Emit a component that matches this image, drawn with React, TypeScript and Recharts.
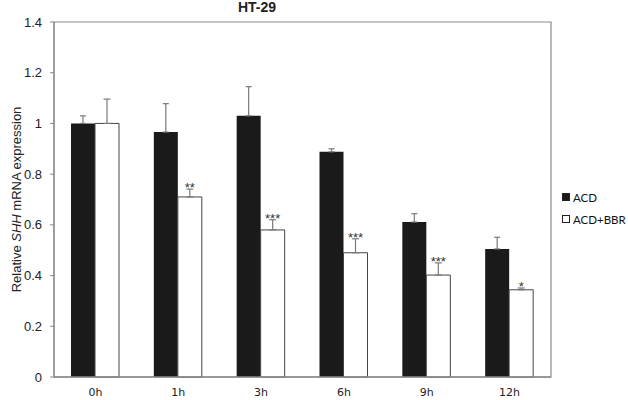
import React from 'react';
import {
  BarChart, Bar, XAxis, YAxis, ErrorBar, LabelList, ReferenceArea,
} from 'recharts';

// values
const TIMES = ['0h', '1h', '3h', '6h', '9h', '12h'];
const ACD = [1.0, 0.966, 1.03, 0.888, 0.611, 0.505];
const ACD_ERR = [0.03, 0.112, 0.115, 0.012, 0.033, 0.046];
const ACD_BBR = [1.0, 0.71, 0.58, 0.49, 0.402, 0.344];
const ACD_BBR_ERR = [0.096, 0.031, 0.04, 0.055, 0.048, 0.007];
const STARS = ['', '**', '***', '***', '***', '*'];
const Y_TICKS = [0, 0.2, 0.4, 0.6, 0.8, 1, 1.2, 1.4];

const data = TIMES.map((t, i) => ({
  time: t,
  acd: ACD[i],
  acdErr: [0, ACD_ERR[i]],
  bbr: ACD_BBR[i],
  bbrErr: [0, ACD_BBR_ERR[i]],
  stars: STARS[i],
}));

const GREY = '#8a8a8a';

const YLabel = (props: any) => {
  const { viewBox } = props;
  const cy = viewBox.y + viewBox.height / 2;
  return (
    <text
      x={16}
      y={cy}
      transform={`rotate(-90, 16, ${cy})`}
      textAnchor="middle"
      dominantBaseline="central"
      fontFamily="Liberation Sans, Arial, sans-serif"
      fontSize={13}
      fill="#222"
    >
      Relative <tspan fontStyle="italic">SHH</tspan> mRNA expression
    </text>
  );
};

const StarLabel = (props: any) => {
  const { x, y, width, height, value, index } = props;
  const s = STARS[index];
  if (!s) return null;
  // top of error bar, using the bar's own pixel-per-unit ratio
  const top = y - (ACD_BBR_ERR[index] / value) * height;
  return (
    <text
      x={x + width / 2}
      y={top + 3}
      textAnchor="middle"
      fontFamily="Liberation Sans, Arial, sans-serif"
      fontSize={13}
      fill="#333"
    >
      {s}
    </text>
  );
};

const LegendItem = ({ fill, label }: { fill: string; label: string }) => (
  <div style={{ display: 'flex', alignItems: 'center', height: 22, whiteSpace: 'nowrap' }}>
    <span
      style={{
        display: 'inline-block', flex: '0 0 auto', boxSizing: 'border-box',
        width: 8, height: 8, background: fill, border: '1px solid #222', marginRight: 3,
      }}
    />
    {label}
  </div>
);

export default function App() {
  return (
    <div style={{ position: 'absolute', left: 0, top: 0, width: 628, height: 400, background: '#fff' }}>
      <div
        style={{
          position: 'absolute', left: 230, top: 0, width: 54, textAlign: 'center', lineHeight: '14px',
          fontFamily: 'Liberation Sans, Arial, sans-serif', fontWeight: 'bold', fontSize: 14, color: '#222',
        }}
      >
        HT-29
      </div>
      <div
        style={{
          position: 'absolute', left: 562, top: 186, width: 66,
          fontFamily: 'Lato, sans-serif', fontSize: 11.5, color: '#111',
        }}
      >
        <LegendItem fill="#1a1a1a" label="ACD" />
        <LegendItem fill="#ffffff" label="ACD+BBR" />
      </div>
      <BarChart
        width={628}
        height={400}
        data={data}
        margin={{ top: 22, right: 77, bottom: 0, left: 0 }}
        barGap={0}
        barSize={24}
      >
        <ReferenceArea y1={0} y2={1.4} fill="none" stroke={GREY} strokeWidth={1.2} />
        <XAxis
          dataKey="time"
          height={23}
          axisLine={{ stroke: GREY, strokeWidth: 1.5 }}
          tickLine={false}
          tickMargin={5}
          tick={{ fontFamily: 'DejaVu Sans, sans-serif', fontSize: 11, fill: '#222' }}
        />
        <YAxis
          width={54}
          domain={[0, 1.4]}
          ticks={Y_TICKS}
          interval={0}
          tickFormatter={(v: number) => String(Math.round(v * 10) / 10)}
          axisLine={{ stroke: GREY, strokeWidth: 1.2 }}
          tickLine={{ stroke: GREY }}
          tickSize={4}
          tickMargin={8}
          tick={{ fontFamily: 'Liberation Sans, Arial, sans-serif', fontSize: 13, fill: '#222' }}
          label={<YLabel />}
        />
        <Bar dataKey="acd" name="ACD" fill="#1a1a1a" isAnimationActive={false}>
          <ErrorBar dataKey="acdErr" width={3} stroke="#7a7a7a" strokeWidth={1.2} />
        </Bar>
        <Bar dataKey="bbr" name="ACD+BBR" fill="#ffffff" stroke="#444" strokeWidth={1} isAnimationActive={false}>
          <ErrorBar dataKey="bbrErr" width={3.5} stroke="#7a7a7a" strokeWidth={1.2} />
          <LabelList dataKey="bbr" content={<StarLabel />} />
        </Bar>
      </BarChart>
    </div>
  );
}
